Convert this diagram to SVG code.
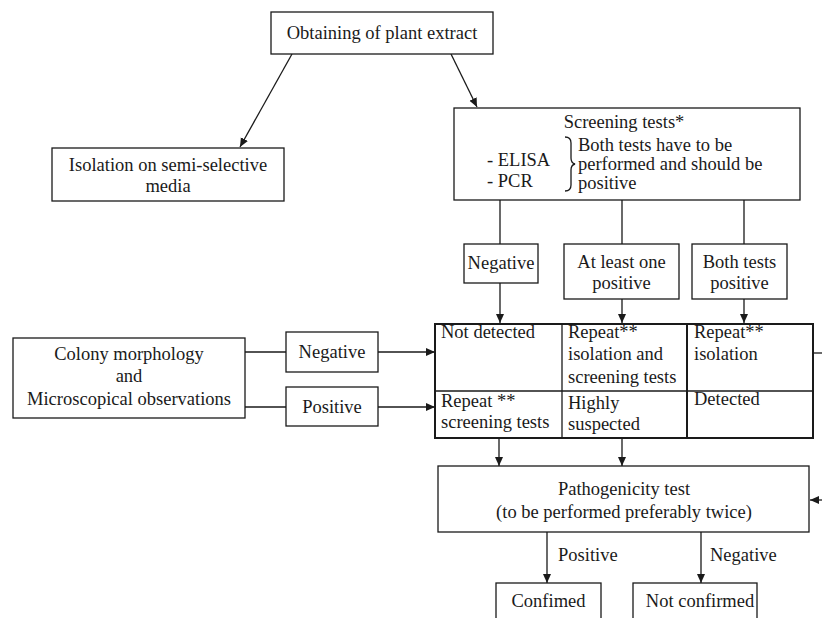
<svg xmlns="http://www.w3.org/2000/svg" width="822" height="618" viewBox="0 0 822 618">
<defs>
<marker id="ah" markerUnits="userSpaceOnUse" markerWidth="10" markerHeight="10" refX="9" refY="4" orient="auto">
<path d="M0,0 L9,4 L0,8 Z" fill="#1a1a1a"/>
</marker>
<style>
text{font-family:"Liberation Serif","Times New Roman",serif;font-size:18.5px;fill:#1a1a1a}
.m{text-anchor:middle}
.box{fill:#fff;stroke:#1a1a1a;stroke-width:1.3}
.tbl{fill:none;stroke:#1a1a1a;stroke-width:2}
.c{fill:none;stroke:#1a1a1a;stroke-width:1.3}
.a{fill:none;stroke:#1a1a1a;stroke-width:1.3;marker-end:url(#ah)}
</style>
</defs>
<rect width="822" height="618" fill="#fff"/>
<g id="connectors">
<line class="a" x1="292" y1="54" x2="240" y2="147"/>
<line class="a" x1="451" y1="54" x2="477" y2="107"/>
<line class="c" x1="500" y1="200" x2="500" y2="244"/>
<line class="c" x1="622" y1="200" x2="622" y2="244"/>
<line class="c" x1="744" y1="200" x2="744" y2="244"/>
<line class="a" x1="500" y1="283" x2="500" y2="323"/>
<line class="a" x1="622" y1="299" x2="622" y2="323"/>
<line class="a" x1="744" y1="299" x2="744" y2="323"/>
<line class="c" x1="245" y1="352" x2="286" y2="352"/>
<line class="a" x1="378" y1="352" x2="435" y2="352"/>
<line class="c" x1="245" y1="407" x2="286" y2="407"/>
<line class="a" x1="378" y1="407" x2="435" y2="407"/>
<line class="c" x1="813" y1="353" x2="822" y2="353"/>
<line class="a" x1="822" y1="500" x2="810" y2="500"/>
<line class="a" x1="499" y1="438" x2="499" y2="466"/>
<line class="a" x1="622" y1="438" x2="622" y2="466"/>
<line class="a" x1="547" y1="532" x2="547" y2="583"/>
<line class="a" x1="701" y1="532" x2="701" y2="583"/>
</g>
<g id="extract">
<rect class="box" x="271" y="12" width="222" height="42"/>
<text class="m" x="382" y="39">Obtaining of plant extract</text>
</g>
<g id="isolation">
<rect class="box" x="52" y="148" width="232" height="53"/>
<text class="m" x="168" y="171">Isolation on semi-selective</text>
<text class="m" x="168" y="192">media</text>
</g>
<g id="screening">
<rect class="box" x="454" y="108" width="346" height="92"/>
<text class="m" x="624" y="128">Screening tests*</text>
<text x="487" y="166">- ELISA</text>
<text x="487" y="187">- PCR</text>
<path class="c" d="M565,137 Q571,137 571,143 L571,158 Q571,163 575,164 Q571,165 571,170 L571,185 Q571,191 565,191"/>
<text x="578" y="151">Both tests have to be</text>
<text x="578" y="170">performed and should be</text>
<text x="578" y="189">positive</text>
</g>
<g id="neg-screen">
<rect class="box" x="464" y="244" width="74" height="39"/>
<text class="m" x="501" y="269">Negative</text>
</g>
<g id="one-pos">
<rect class="box" x="564" y="244" width="115" height="55"/>
<text class="m" x="621.5" y="268">At least one</text>
<text class="m" x="621.5" y="289">positive</text>
</g>
<g id="both-pos">
<rect class="box" x="692" y="244" width="95" height="55"/>
<text class="m" x="739.5" y="268">Both tests</text>
<text class="m" x="739.5" y="289">positive</text>
</g>
<g id="results-table">
<rect class="tbl" x="435" y="324" width="378" height="114"/>
<line class="c" x1="435" y1="391" x2="813" y2="391"/>
<line class="c" x1="562" y1="324" x2="562" y2="438"/>
<line class="tbl" x1="687" y1="324" x2="687" y2="438"/>
<text x="441" y="338">Not detected</text>
<text x="568" y="338">Repeat**</text>
<text x="568" y="360">isolation and</text>
<text x="568" y="383">screening tests</text>
<text x="694" y="338">Repeat**</text>
<text x="694" y="360">isolation</text>
<text x="441" y="407">Repeat **</text>
<text x="441" y="428">screening tests</text>
<text x="568" y="409">Highly</text>
<text x="568" y="430">suspected</text>
<text x="694" y="405">Detected</text>
</g>
<g id="colony">
<rect class="box" x="13" y="338" width="232" height="80"/>
<text class="m" x="129" y="360">Colony morphology</text>
<text class="m" x="129" y="382">and</text>
<text class="m" x="129" y="405">Microscopical observations</text>
</g>
<g id="neg-colony">
<rect class="box" x="286" y="332" width="92" height="40"/>
<text class="m" x="332" y="358">Negative</text>
</g>
<g id="pos-colony">
<rect class="box" x="286" y="387" width="92" height="39"/>
<text class="m" x="332" y="413">Positive</text>
</g>
<g id="pathogenicity">
<rect class="box" x="438" y="466" width="371" height="66"/>
<text class="m" x="624" y="495">Pathogenicity test</text>
<text class="m" x="624" y="518">(to be performed preferably twice)</text>
</g>
<text x="558" y="561">Positive</text>
<text x="710" y="561">Negative</text>
<g id="confirmed">
<rect class="box" x="496" y="583" width="105" height="40"/>
<text class="m" x="548.5" y="607">Confimed</text>
</g>
<g id="not-confirmed">
<rect class="box" x="633" y="583" width="124" height="40"/>
<text class="m" x="700" y="607">Not confirmed</text>
</g>
</svg>
